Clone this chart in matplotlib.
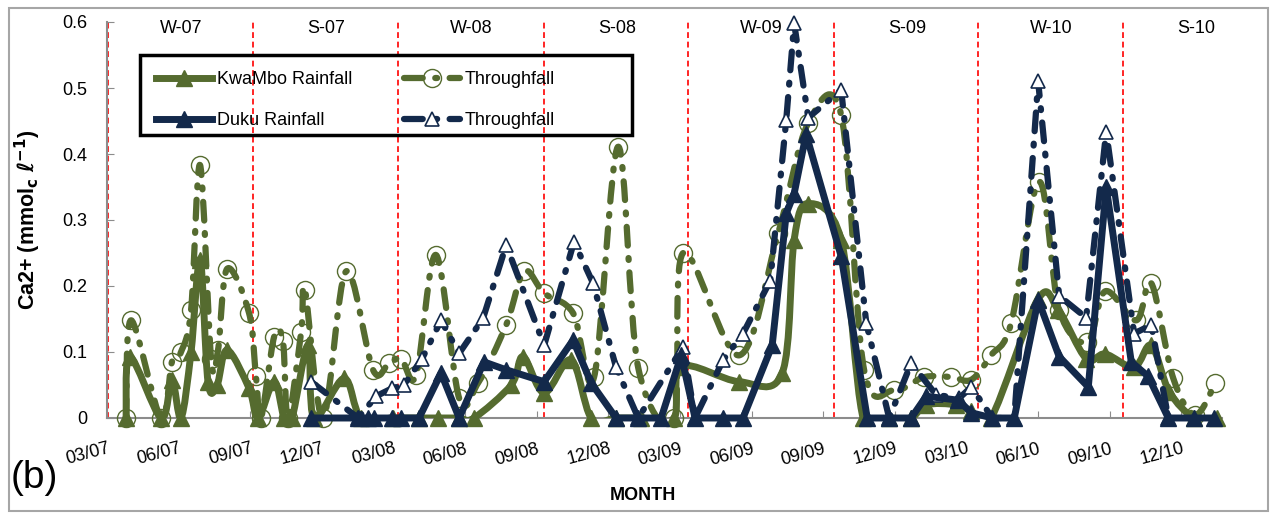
import numpy as np
import matplotlib.pyplot as plt
from matplotlib.path import Path
from matplotlib.patches import PathPatch, Rectangle
from matplotlib.lines import Line2D

plt.rcParams['font.family'] = ['Liberation Sans', 'DejaVu Sans']

# time axis: months counted from 03/07
tick_labels = ["03/07", "06/07", "09/07", "12/07", "03/08", "06/08", "09/08", "12/08",
               "03/09", "06/09", "09/09", "12/09", "03/10", "06/10", "09/10", "12/10"]
seasons = ["W-07", "S-07", "W-08", "S-08", "W-09", "S-09", "W-10", "S-10"]
season_starts = [0.04, 6.12, 12.19, 18.31, 24.34, 30.46, 36.49, 42.56]

# KwaMbo rainfall
kw_rain_t = [0.80, 0.96, 2.26, 2.72, 3.10, 3.52, 3.90, 4.23, 4.61, 5.03, 5.95, 6.33, 7.00, 7.42,
             7.75, 8.42, 8.67, 9.93, 10.64, 11.98, 13.07, 13.87, 14.75, 15.37, 16.93, 17.43,
             18.31, 19.44, 20.28, 21.32, 22.37, 23.75, 24.05, 26.48, 28.28, 28.78, 29.37,
             30.75, 31.67, 32.76, 33.68, 34.31, 35.57, 36.20, 37.03, 39.00, 39.84, 41.01,
             41.81, 43.02, 43.74, 44.49, 45.54, 46.50]
kw_rain = [0, 0.093, 0, 0.057, 0, 0.10, 0.24, 0.055, 0.05, 0.103, 0.045, 0, 0.055, 0,
           0, 0.11, 0, 0.06, 0, 0, 0, 0, 0, 0, 0.05, 0.093,
           0.038, 0.088, 0, 0, 0, 0, 0.078, 0.055, 0.068, 0.27, 0.325,
           0.27, 0, 0, 0, 0.02, 0.02, 0.01, 0, 0.18, 0.164, 0.09,
           0.097, 0.077, 0.11, 0.04, 0, 0]

# KwaMbo throughfall
kw_tf_t = [0.80, 1.01, 2.26, 2.72, 3.10, 3.52, 3.90, 4.36, 4.65, 5.03, 5.95, 6.24, 6.45, 7.00,
           7.37, 7.58, 8.13, 8.29, 9.05, 10.01, 11.14, 11.81, 12.32, 12.95, 13.78, 14.75,
           15.54, 16.72, 17.47, 18.31, 19.52, 20.40, 21.41, 22.25, 23.75, 24.13, 26.48,
           28.11, 29.37, 30.75, 31.71, 32.97, 34.23, 35.36, 36.20, 37.03, 37.87, 39.04,
           39.88, 41.06, 41.81, 43.11, 43.74, 44.66, 45.58, 46.42]
kw_tf = [0, 0.148, 0, 0.085, 0.10, 0.163, 0.383, 0.09, 0.103, 0.226, 0.159, 0.063, 0, 0.123,
         0.116, 0, 0.13, 0.194, 0, 0.222, 0.073, 0.083, 0.09, 0.065, 0.247, 0.03,
         0.053, 0.141, 0.222, 0.189, 0.159, 0.062, 0.411, 0.076, 0, 0.25, 0.095,
         0.28, 0.447, 0.459, 0.073, 0.042, 0.062, 0.062, 0.058, 0.095, 0.144, 0.358,
         0.164, 0.115, 0.192, 0.148, 0.204, 0.06, 0.005, 0.053]

# Duku rainfall
dk_rain_t = [8.55, 10.52, 10.93, 11.19, 11.94, 12.32, 13.07, 13.99, 14.75, 15.79, 16.72, 18.31,
             19.52, 20.28, 21.32, 22.25, 23.21, 24.05, 24.63, 25.81, 26.64, 27.86, 28.45,
             28.78, 29.28, 30.75, 31.84, 32.76, 33.68, 34.31, 35.65, 36.20, 37.08, 38.00,
             39.00, 39.88, 41.10, 41.85, 42.90, 43.61, 44.45, 45.54, 46.38]
dk_rain = [0, 0, 0, 0, 0, 0, 0, 0.068, 0, 0.085, 0.073, 0.055,
           0.118, 0.053, 0, 0, 0, 0.095, 0, 0, 0, 0.11, 0.31,
           0.34, 0.43, 0.245, 0, 0, 0, 0.033, 0.027, 0.008, 0, 0,
           0.179, 0.093, 0.047, 0.35, 0.085, 0.063, 0, 0, 0]

# Duku throughfall
dk_tf_t = [8.55, 10.52, 11.27, 11.94, 12.44, 13.20, 13.99, 14.75, 15.75, 16.72, 18.31, 19.56,
           20.36, 21.32, 22.25, 24.13, 24.63, 25.81, 26.64, 27.78, 28.45, 28.78, 29.37,
           30.75, 31.80, 32.76, 33.68, 34.73, 35.69, 36.20, 37.08, 38.00, 39.00, 39.88,
           41.01, 41.85, 43.02, 43.74, 44.45]
dk_tf = [0.055, 0, 0.033, 0.045, 0.05, 0.09, 0.148, 0.098, 0.151, 0.262, 0.11, 0.267,
         0.204, 0.077, 0, 0.108, 0, 0.088, 0.128, 0.208, 0.452, 0.598, 0.455,
         0.497, 0.144, 0, 0.083, 0.035, 0.03, 0.047, 0, 0, 0.51, 0.185,
         0.152, 0.434, 0.128, 0.141, 0]

olive = "#556b2f"
navy = "#13294b"
dash = (0, (3.0, 2.0, 0.3, 2.0))


def smooth(x, y):
    # Excel-like smoothed line: cubic Bezier segments through the points
    p = np.column_stack([x, y])
    n = len(p)
    verts = [p[0]]
    codes = [Path.MOVETO]
    for i in range(n - 1):
        p0 = p[max(i - 1, 0)]
        p3 = p[min(i + 2, n - 1)]
        verts += [p[i] + (p[i + 1] - p0) / 6, p[i + 1] - (p3 - p[i]) / 6, p[i + 1]]
        codes += [Path.CURVE4] * 3
    return Path(verts, codes)


fig = plt.figure(figsize=(12.74, 5.14), dpi=100)
ax = fig.add_axes([107 / 1274, 1 - 418 / 514, 1115 / 1274, 396 / 514])

for b in season_starts:
    ax.axvline(b, color="red", lw=1.2, ls=(0, (3.5, 2.2)), zorder=1)
for b, s in zip(season_starts, seasons):
    ax.text(b + 3.05, 0.59, s, ha="center", va="center", fontsize=13)

# KwaMbo rainfall
ax.add_patch(PathPatch(smooth(kw_rain_t, kw_rain), fill=False, ec=olive, lw=5,
                       capstyle="round", joinstyle="round", zorder=3))
ax.plot(kw_rain_t, kw_rain, ls="none", marker="^", ms=12, color=olive, clip_on=False, zorder=3)
# KwaMbo throughfall
ax.add_patch(PathPatch(smooth(kw_tf_t, kw_tf), fill=False, ec=olive, lw=4.5, ls=dash,
                       capstyle="round", joinstyle="round", zorder=4))
ax.plot(kw_tf_t, kw_tf, ls="none", marker="o", ms=13, mfc="none", mec=olive, mew=1,
        clip_on=False, zorder=4)
# Duku throughfall
ax.plot(dk_tf_t, dk_tf, color=navy, lw=4.5, ls=dash, dash_capstyle="round",
        clip_on=False, zorder=5)
ax.plot(dk_tf_t, dk_tf, ls="none", marker="^", ms=10, mfc="white", mec=navy, mew=1.2,
        clip_on=False, zorder=5)
# Duku rainfall
ax.plot(dk_rain_t, dk_rain, color=navy, lw=5, marker="^", ms=12, solid_capstyle="round",
        clip_on=False, zorder=6)

ax.set_xlim(0, 46.7)
ax.set_ylim(0, 0.6)
ax.set_yticks(np.arange(0, 0.61, 0.1))
ax.set_yticklabels(["0", "0.1", "0.2", "0.3", "0.4", "0.5", "0.6"])
ax.set_xticks(np.arange(0, 46, 3))
ax.set_xticklabels(tick_labels, rotation=15, ha="right", va="top", rotation_mode="anchor")
ax.tick_params(direction="in", length=5, color="#8c8c8c", labelsize=13)
ax.tick_params(axis="x", pad=16)
ax.tick_params(axis="y", pad=14)
for s in ["top", "right"]:
    ax.spines[s].set_visible(False)
for s in ["left", "bottom"]:
    ax.spines[s].set_color("#8c8c8c")
    ax.spines[s].set_linewidth(1.5)

ax.set_ylabel("Ca2+ (mmol$_{\\mathbf{c}}$ $\\mathbf{\\ell}^{\\mathbf{-1}}$)",
              fontsize=15.5, fontweight="bold")
ax.yaxis.set_label_coords(-0.057, 0.5)

fig.text(643 / 1274, 1 - 495 / 514, "MONTH", ha="center", va="center",
         fontsize=13, fontweight="bold")
fig.text(11 / 1274, 1 - 478 / 514, "(b)", ha="left", va="center", fontsize=28)

handles = [
    Line2D([], [], color=olive, lw=5, marker="^", ms=12),
    Line2D([], [], color=navy, lw=5, marker="^", ms=12),
    Line2D([], [], color=olive, lw=4.5, ls=dash, dash_capstyle="round", marker="o", ms=13,
           mfc="none", mec=olive, mew=1),
    Line2D([], [], color=navy, lw=4.5, ls=dash, dash_capstyle="round", marker="^", ms=10,
           mfc="white", mec=navy, mew=1.2),
]
ax.legend(handles, ["KwaMbo Rainfall", "Duku Rainfall", "Throughfall", "Throughfall"],
          ncol=2, loc="upper left", bbox_to_anchor=(0.0296, 0.917), frameon=False,
          fontsize=13, handlelength=3.1, handletextpad=0.25, columnspacing=2.9,
          labelspacing=1.35, borderpad=0.9, borderaxespad=0)
ax.add_patch(Rectangle((0.0296, 0.7146), 0.441, 0.202, transform=ax.transAxes, fill=False,
                       ec="black", lw=2.5, zorder=10))

fig.patches.append(Rectangle((9 / 1274, 3 / 514), 1259 / 1274, 503 / 514,
                             transform=fig.transFigure, fill=False, ec="#a6a6a6", lw=1.5))

fig.savefig("out.png", dpi=100)
